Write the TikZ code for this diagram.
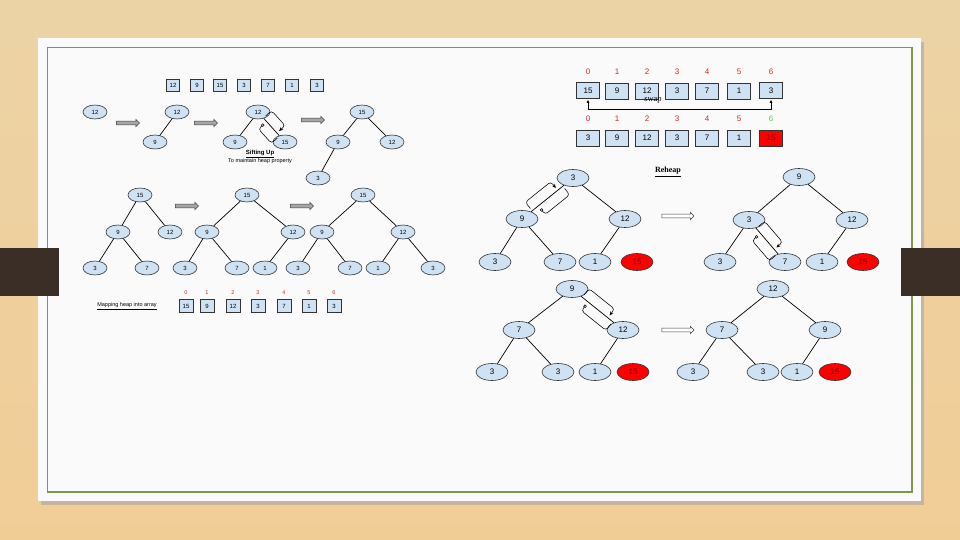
\documentclass[tikz,border=0pt]{standalone}
\usepackage{fontspec}
\setmainfont{Liberation Sans}
\newfontfamily\timesfont{Liberation Serif}
\usetikzlibrary{shapes.geometric, shapes.arrows, arrows.meta, calc}

\definecolor{woodtop}{RGB}{236,211,166}
\definecolor{woodlow}{RGB}{241,205,150}
\definecolor{tabbrown}{RGB}{58,46,38}
\definecolor{framegreen}{RGB}{128,150,72}
\definecolor{heapblue}{RGB}{207,226,243}
\definecolor{idxred}{RGB}{210,40,40}
\definecolor{idxgreen}{RGB}{90,205,90}

% two hooked arrows beside an edge: a swap of its two keys
\newcommand{\swapmark}[2]{%
	\draw[line width=0.55pt, rounded corners=3pt, -{Stealth[length=4pt,width=3.5pt]}]
		($(#1)!0.2!(#2)!3pt!90:(#2)$) -- ($(#1)!0.2!(#2)!11pt!90:(#2)$)
		-- ($(#1)!0.7!(#2)!11pt!90:(#2)$) -- ($(#1)!0.7!(#2)!3pt!90:(#2)$);
	\draw[line width=0.55pt, rounded corners=3pt, -{Square[open,length=2.5pt,width=2.5pt]}]
		($(#1)!0.8!(#2)!3pt!-90:(#2)$) -- ($(#1)!0.8!(#2)!11pt!-90:(#2)$)
		-- ($(#1)!0.32!(#2)!11pt!-90:(#2)$) -- ($(#1)!0.32!(#2)!4pt!-90:(#2)$);
}

\begin{document}
\begin{tikzpicture}[
			x=1pt, y=-1pt,
			nodes = {
				align = center
			},
			key/.style={
				ellipse,
				draw=black!80,
				fill=heapblue,
				line width=0.6pt,
				minimum width=24pt,
				minimum height=14pt,
				inner sep=0pt,
				font=\fontsize{6}{7}\selectfont
			},
			bigkey/.style={
				key,
				minimum width=32pt,
				minimum height=17pt,
				font=\fontsize{8}{9}\selectfont
			},
			done/.style={
				bigkey,
				fill=red,
				text=black!55!red
			},
			cell/.style={
				rectangle,
				draw=black!80,
				fill=heapblue,
				line width=0.6pt,
				minimum width=13pt,
				minimum height=12pt,
				inner sep=0pt,
				font=\fontsize{6}{7}\selectfont
			},
			bigcell/.style={
				cell,
				minimum width=23pt,
				minimum height=16pt,
				font=\fontsize{8}{9}\selectfont
			},
			index/.style={
				text=idxred,
				font=\fontsize{5.5}{6}\selectfont
			},
			bigindex/.style={
				index,
				font=\fontsize{8}{9}\selectfont
			},
			siftarrow/.style={
				single arrow,
				draw=black!75,
				fill=black!35,
				line width=0.5pt,
				minimum height=23pt,
				inner sep=1.6pt,
				single arrow head extend=1.8pt
			},
			reheaparrow/.style={
				siftarrow,
				fill=white,
				minimum height=32pt
			},
			lines/.style={
				line width=0.7pt,
				>=latex
			}
		]
			% slide background
			\shade[top color=woodtop, bottom color=woodlow] (0,0) rectangle (960,540);
			\fill[black!35, opacity=0.6] (41,42) rectangle (924,505);
			\fill[white!98!black] (38,38) rectangle (921,501);
			\draw[framegreen, line width=1.8pt] (47.5,47.5) rectangle (912,492);
			\fill[tabbrown] (0,248) rectangle (59,296);
			\fill[tabbrown] (901,248) rectangle (960,296);

			% input array
			\node[cell] (in0) at (173,85) {12};
			\node[cell] (in1) at (197,85) {9};
			\node[cell] (in2) at (220,85) {15};
			\node[cell] (in3) at (244,85) {3};
			\node[cell] (in4) at (268,85) {7};
			\node[cell] (in5) at (292,85) {1};
			\node[cell] (in6) at (317,85) {3};

			% building the heap
			\node[key] (s1r) at (95,112) {12};
			\node[siftarrow] (a1) at (127,123) {};

			\node[key] (s2r) at (177,112) {12};
			\node[key] (s2l) at (155,142) {9};
			\node[siftarrow] (a2) at (205,123) {};

			\node[key] (s3r) at (258,112) {12};
			\node[key] (s3l) at (235,142) {9};
			\node[key] (s3x) at (285,142) {15};
			\node (sift) at (260,154) {\fontsize{6}{7}\selectfont\textbf{\underline{Sifting Up}}};
			\node (siftnote) at (260,161.5) {\fontsize{5.5}{6}\selectfont To maintain heap property};
			\node[siftarrow] (a3) at (312,120) {};

			\node[key] (s4r) at (362,112) {15};
			\node[key] (s4l) at (338,142) {9};
			\node[key] (s4x) at (392,142) {12};
			\node[key] (s4ll) at (318,178) {3};

			\node[key] (t1r) at (140,195) {15};
			\node[key] (t1l) at (118,232) {9};
			\node[key] (t1x) at (170,232) {12};
			\node[key] (t1ll) at (95,268) {3};
			\node[key] (t1lx) at (147,268) {7};
			\node[siftarrow] (a4) at (186,206) {};

			\node[key] (t2r) at (247,195) {15};
			\node[key] (t2l) at (207,232) {9};
			\node[key] (t2x) at (293,232) {12};
			\node[key] (t2ll) at (185,268) {3};
			\node[key] (t2lx) at (237,268) {7};
			\node[key] (t2xl) at (265,268) {1};
			\node[siftarrow] (a5) at (301,206) {};

			\node[key] (t3r) at (363,195) {15};
			\node[key] (t3l) at (322,232) {9};
			\node[key] (t3x) at (403,232) {12};
			\node[key] (t3ll) at (298,268) {3};
			\node[key] (t3lx) at (350,268) {7};
			\node[key] (t3xl) at (378,268) {1};
			\node[key] (t3xx) at (433,268) {3};

			\draw[lines] (s2r) -- (s2l);
			\draw[lines] (s3r) -- (s3l);
			\draw[lines] (s3r) -- (s3x);
			\draw[lines] (s4r) -- (s4l);
			\draw[lines] (s4r) -- (s4x);
			\draw[lines] (s4l) -- (s4ll);
			\swapmark{s3r}{s3x}

			\draw[lines] (t1r) -- (t1l);
			\draw[lines] (t1r) -- (t1x);
			\draw[lines] (t1l) -- (t1ll);
			\draw[lines] (t1l) -- (t1lx);

			\draw[lines] (t2r) -- (t2l);
			\draw[lines] (t2r) -- (t2x);
			\draw[lines] (t2l) -- (t2ll);
			\draw[lines] (t2l) -- (t2lx);
			\draw[lines] (t2x) -- (t2xl);

			\draw[lines] (t3r) -- (t3l);
			\draw[lines] (t3r) -- (t3x);
			\draw[lines] (t3l) -- (t3ll);
			\draw[lines] (t3l) -- (t3lx);
			\draw[lines] (t3x) -- (t3xl);
			\draw[lines] (t3x) -- (t3xx);

			% heap as array
			\node (map) at (127,306) {\fontsize{5.5}{6}\selectfont\underline{Mapping heap into array}};
			\node[index] (mi0) at (186,293) {0};
			\node[index] (mi1) at (207,293) {1};
			\node[index] (mi2) at (233,293) {2};
			\node[index] (mi3) at (258,293) {3};
			\node[index] (mi4) at (284,293) {4};
			\node[index] (mi5) at (309,293) {5};
			\node[index] (mi6) at (334,293) {6};
			\node[cell, minimum width=14pt, minimum height=13pt] (m0) at (186,306) {15};
			\node[cell, minimum width=14pt, minimum height=13pt] (m1) at (207,306) {9};
			\node[cell, minimum width=14pt, minimum height=13pt] (m2) at (233,306) {12};
			\node[cell, minimum width=14pt, minimum height=13pt] (m3) at (258,306) {3};
			\node[cell, minimum width=14pt, minimum height=13pt] (m4) at (284,306) {7};
			\node[cell, minimum width=14pt, minimum height=13pt] (m5) at (309,306) {1};
			\node[cell, minimum width=14pt, minimum height=13pt] (m6) at (334,306) {3};

			% swap root and last
			\node[bigindex] (hi0) at (588,72) {0};
			\node[bigindex] (hi1) at (617,72) {1};
			\node[bigindex] (hi2) at (647,72) {2};
			\node[bigindex] (hi3) at (677,72) {3};
			\node[bigindex] (hi4) at (707,72) {4};
			\node[bigindex] (hi5) at (739,72) {5};
			\node[bigindex] (hi6) at (771,72) {6};
			\node[bigcell, line width=1pt] (h0) at (588,91) {15};
			\node[bigcell] (h1) at (617,91) {9};
			\node[bigcell] (h2) at (647,91) {12};
			\node[bigcell] (h3) at (677,91) {3};
			\node[bigcell] (h4) at (707,91) {7};
			\node[bigcell] (h5) at (739,91) {1};
			\node[bigcell, line width=1pt] (h6) at (771,91) {3};
			\draw[lines, {Latex[length=3.5pt,width=3pt]}-{Latex[length=3.5pt,width=3pt]}] (h0.south) -- ++(0,10) -| (h6.south);
			\node[font=\timesfont\fontsize{8.5}{9}\selectfont] (swap) at (653,100.5) {swap};

			\node[bigindex] (ki0) at (588,119) {0};
			\node[bigindex] (ki1) at (617,119) {1};
			\node[bigindex] (ki2) at (647,119) {2};
			\node[bigindex] (ki3) at (677,119) {3};
			\node[bigindex] (ki4) at (707,119) {4};
			\node[bigindex] (ki5) at (739,119) {5};
			\node[bigindex, text=idxgreen] (ki6) at (771,119) {6};
			\node[bigcell] (k0) at (588,138) {3};
			\node[bigcell] (k1) at (617,138) {9};
			\node[bigcell] (k2) at (647,138) {12};
			\node[bigcell] (k3) at (677,138) {3};
			\node[bigcell] (k4) at (707,138) {7};
			\node[bigcell] (k5) at (739,138) {1};
			\node[bigcell, fill=red, text=black!55!red] (k6) at (771,138) {15};

			% reheap
			\node[font=\timesfont\fontsize{8}{9}\selectfont\bfseries] (reheap) at (668,172) {\underline{Reheap}};

			\node[bigkey] (r1a) at (573,178) {3};
			\node[bigkey] (r1b) at (522,219) {9};
			\node[bigkey] (r1c) at (625,219) {12};
			\node[bigkey] (r1d) at (495,262) {3};
			\node[bigkey] (r1e) at (560,262) {7};
			\node[bigkey] (r1f) at (595,262) {1};
			\node[done] (r1g) at (637,262) {15};
			\node[reheaparrow] (a6) at (677,216) {};

			\node[bigkey] (r2a) at (799,177) {9};
			\node[bigkey] (r2b) at (749,220) {3};
			\node[bigkey] (r2c) at (852,220) {12};
			\node[bigkey] (r2d) at (720,262) {3};
			\node[bigkey] (r2e) at (785,262) {7};
			\node[bigkey] (r2f) at (822,262) {1};
			\node[done] (r2g) at (863,262) {15};

			\node[bigkey] (r3a) at (572,289) {9};
			\node[bigkey] (r3b) at (519,330) {7};
			\node[bigkey] (r3c) at (623,330) {12};
			\node[bigkey] (r3d) at (492,372) {3};
			\node[bigkey] (r3e) at (558,372) {3};
			\node[bigkey] (r3f) at (595,372) {1};
			\node[done] (r3g) at (633,372) {15};
			\node[reheaparrow] (a7) at (677,330) {};

			\node[bigkey] (r4a) at (773,289) {12};
			\node[bigkey] (r4b) at (722,330) {7};
			\node[bigkey] (r4c) at (825,330) {9};
			\node[bigkey] (r4d) at (693,372) {3};
			\node[bigkey] (r4e) at (763,372) {3};
			\node[bigkey] (r4f) at (797,372) {1};
			\node[done] (r4g) at (835,372) {15};

			\draw[lines] (r1a) -- (r1b);
			\draw[lines] (r1a) -- (r1c);
			\draw[lines] (r1b) -- (r1d);
			\draw[lines] (r1b) -- (r1e);
			\draw[lines] (r1c) -- (r1f);
			\swapmark{r1b}{r1a}

			\draw[lines] (r2a) -- (r2b);
			\draw[lines] (r2a) -- (r2c);
			\draw[lines] (r2b) -- (r2d);
			\draw[lines] (r2b) -- (r2e);
			\draw[lines] (r2c) -- (r2f);
			\swapmark{r2b}{r2e}

			\draw[lines] (r3a) -- (r3b);
			\draw[lines] (r3a) -- (r3c);
			\draw[lines] (r3b) -- (r3d);
			\draw[lines] (r3b) -- (r3e);
			\draw[lines] (r3c) -- (r3f);
			\swapmark{r3a}{r3c}

			\draw[lines] (r4a) -- (r4b);
			\draw[lines] (r4a) -- (r4c);
			\draw[lines] (r4b) -- (r4d);
			\draw[lines] (r4b) -- (r4e);
			\draw[lines] (r4c) -- (r4f);

			\useasboundingbox (0,0) rectangle (960,540);
		\end{tikzpicture}
\end{document}
